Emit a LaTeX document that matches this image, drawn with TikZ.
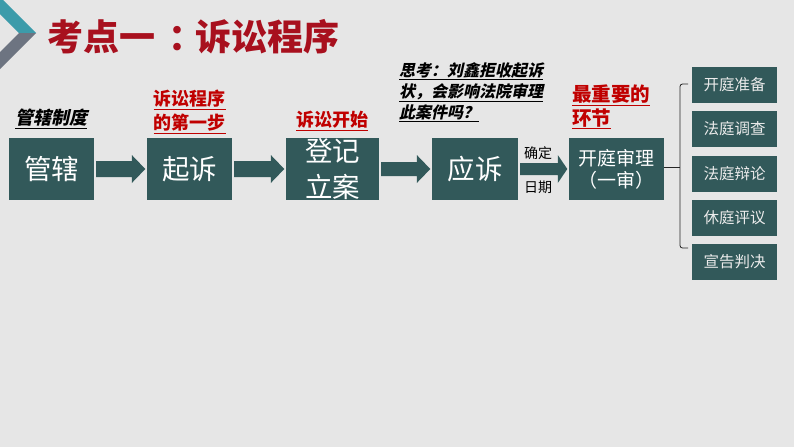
\documentclass[tikz,border=0pt]{standalone}
\usepackage{fontspec}
\newfontfamily\cjk{Noto Sans CJK SC}
\newfontfamily\cjksl{Noto Sans CJK SC}[FakeSlant=0.22]
\usetikzlibrary{calc}
\definecolor{bg}{HTML}{E6E6E6}
\definecolor{boxc}{HTML}{32595A}
\definecolor{titred}{HTML}{A8101E}
\definecolor{labred}{HTML}{C00000}
\definecolor{chteal}{HTML}{3C9BAA}
\definecolor{chgray}{HTML}{6D7481}
\newcommand\blockarr[5]{%
  \fill[boxc] let \p1=(#1.east), \p2=(#2.west) in
  (\x1+2pt,\y1+#3pt) -- (\x2-#5pt,\y1+#3pt) -- (\x2-#5pt,\y1+#4pt) -- (\x2-1.5pt,\y1)
  -- (\x2-#5pt,\y1-#4pt) -- (\x2-#5pt,\y1-#3pt) -- (\x1+2pt,\y1-#3pt) -- cycle;}
\begin{document}
\begin{tikzpicture}[x=1pt,y=-1pt,
  box/.style={fill=boxc, inner sep=0, minimum height=62},
  btxt/.style={text=white, font=\cjk\fontsize{27.5}{36}\selectfont, align=center, inner sep=0},
  sbox/.style={fill=boxc, minimum width=85, minimum height=36, inner sep=0, text=white!92!black, font=\cjk\fontsize{15.5}{18}\selectfont},
  redlab/.style={text=labred, font=\cjk\bfseries\fontsize{18}{24}\selectfont, inner sep=0},
  blklab/.style={text=black, font=\cjksl\bfseries\fontsize{16}{21}\selectfont, inner sep=0},
  datelab/.style={text=black, font=\cjk\fontsize{14}{16}\selectfont, inner sep=0},
  brk/.style={draw=black!85, line width=0.8pt, rounded corners=2.5pt}
]
\fill[bg] (0,0) rectangle (794,447);
\useasboundingbox (0,0) rectangle (794,447);
% chevron
\fill[chteal] (-14,0) -- (3,0) -- (36,33) -- (19,33) -- cycle;
\fill[chgray] (19,33) -- (36,33) -- (0,69) -- (-17,69) -- cycle;
% title
\node[anchor=west, text=titred, font=\cjk\bfseries\fontsize{36}{40}\selectfont, inner sep=0] (title) at (47,37) {考点一\hspace{13pt}：\hspace{-9pt}诉讼程序};
% main boxes
\node[box, minimum width=85] (a) at (51.5,169) {};
\node[btxt] at (a.center) {管辖};
\node[box, minimum width=85] (b) at (189.5,169) {};
\node[btxt] at (b.center) {起诉};
\node[box, minimum width=93] (c) at (332.5,169) {};
\node[btxt] at (c.center) {登记\\立案};
\node[box, minimum width=86] (d) at (475,169) {};
\node[btxt] at (d.center) {应诉};
\node[box, minimum width=95] (e) at (616.5,169) {};
\node[text=white, font=\cjk\fontsize{19}{22}\selectfont, align=center, inner sep=0] at (e.center) {开庭审理\\（一审）};
% arrows
\blockarr{a}{b}{8}{14}{15}
\blockarr{b}{c}{8}{14}{15}
\blockarr{c}{d}{7}{14}{15}
\blockarr{d}{e}{6}{14}{11}
\node[datelab] (q1) at (538,153) {确定};
\node[datelab] (q2) at (538,187) {日期};
% labels
\node[blklab, font=\cjksl\bfseries\fontsize{18}{22}\selectfont] (l1) at (51,119) {\underline{管辖制度}};
\node[redlab, align=center] (l2) at (189.5,112) {\underline{诉讼程序}\\\underline{的第一步}};
\node[redlab] (l3) at (332,121) {\underline{诉讼开始}};
\node[blklab, align=left, anchor=west] (l4) at (399,92) {\underline{思考：刘鑫拒收起诉}\\\underline{状，会影响法院审理}\\\underline{此案件吗？}};
\node[redlab, font=\cjk\bfseries\fontsize{19.5}{24}\selectfont, align=left, anchor=west] (l5) at (572,107) {\underline{最重要的}\\\underline{环节}};
% right boxes
\node[sbox] (s1) at (734.5,85) {开庭准备};
\node[sbox] (s2) at (734.5,129) {法庭调查};
\node[sbox] (s3) at (734.5,173.5) {法庭辩论};
\node[sbox] (s4) at (734.5,217.5) {休庭评议};
\node[sbox] (s5) at (734.5,261.5) {宣告判决};
% bracket
\coordinate (bt) at (688,84);
\coordinate (bb) at (688,248);
\coordinate (bm) at (680,167);
\draw[brk] (bt) -- (680,84) -- (680,248) -- (bb);
\draw[draw=black!85, line width=0.8pt] (e.east |- bm) -- (bm);
\end{tikzpicture}
\end{document}
